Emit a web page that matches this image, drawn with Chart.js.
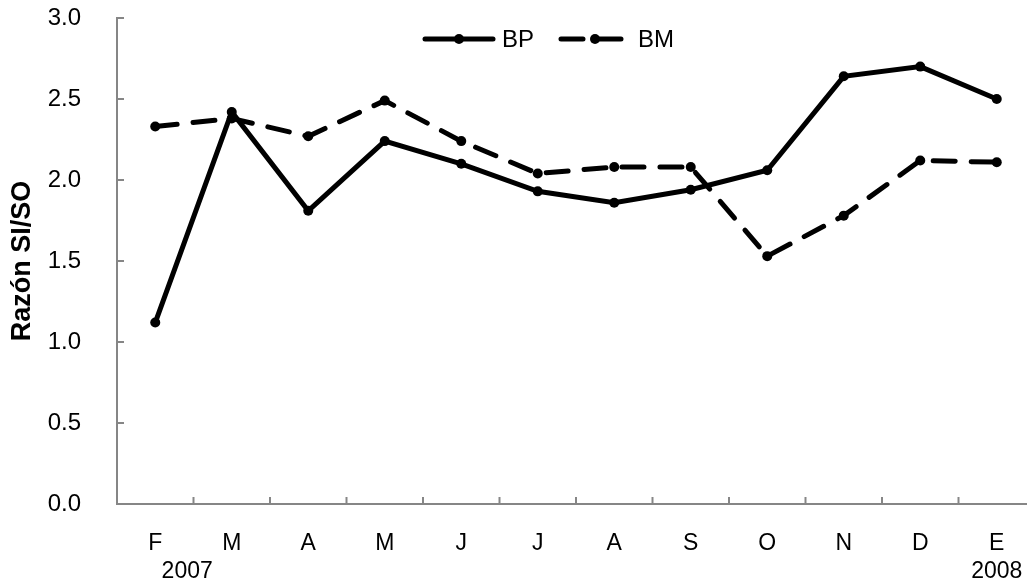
<!DOCTYPE html>
<html>
<head>
<meta charset="utf-8">
<script src="https://cdn.jsdelivr.net/npm/chart.js@4.4.0/dist/chart.umd.min.js"></script>
<style>
  html, body { margin: 0; padding: 0; background: #fff; overflow: hidden; }
  #wrap { width: 1050px; height: 583px; }
</style>
</head>
<body>
<div id="wrap"><canvas id="myChart"></canvas></div>
<script>
const meses = ["F", "M", "A", "M", "J", "J", "A", "S", "O", "N", "D", "E"];
const anios = ["          2007", "", "", "", "", "", "", "", "", "", "", "2008"];
const bp = [1.12, 2.42, 1.81, 2.24, 2.10, 1.93, 1.86, 1.94, 2.06, 2.64, 2.70, 2.50];
const bm = [2.33, 2.38, 2.27, 2.49, 2.24, 2.04, 2.08, 2.08, 1.53, 1.78, 2.12, 2.11];
const yTicks = [0, 0.5, 1.0, 1.5, 2.0, 2.5, 3.0];

const labels = meses.map((m, i) => anios[i] ? [m, anios[i]] : m);
const fuente = "'Liberation Sans', Arial, sans-serif";
const ejeColor = "#868686";

// marcas cortas hacia dentro del area, como en el original
const marcasInternas = {
    id: "marcasInternas",
    afterDraw(chart) {
        const ctx = chart.ctx;
        const x = chart.scales.x;
        const y = chart.scales.y;
        const area = chart.chartArea;
        ctx.save();
        ctx.strokeStyle = ejeColor;
        ctx.lineWidth = 2;
        yTicks.forEach(v => {
            const py = y.getPixelForValue(v);
            ctx.beginPath();
            ctx.moveTo(area.left, py);
            ctx.lineTo(area.left + 7, py);
            ctx.stroke();
        });
        const paso = x.getPixelForValue(1) - x.getPixelForValue(0);
        for (let i = 0; i <= meses.length; i++) {
            const px = x.getPixelForValue(i) - paso / 2;
            ctx.beginPath();
            ctx.moveTo(px, area.bottom);
            ctx.lineTo(px, area.bottom - 7);
            ctx.stroke();
        }
        ctx.restore();
    }
};

// leyenda dentro del area de trazado
const leyenda = {
    id: "leyenda",
    afterDraw(chart) {
        const ctx = chart.ctx;
        const cy = chart.chartArea.top + 21;
        let x0 = 425;
        ctx.save();
        ctx.font = "24px " + fuente;
        ctx.textBaseline = "middle";
        chart.data.datasets.forEach(ds => {
            ctx.strokeStyle = ds.borderColor;
            ctx.lineWidth = ds.borderWidth;
            ctx.lineCap = "round";
            ctx.setLineDash(ds.borderDash || []);
            ctx.beginPath();
            ctx.moveTo(x0, cy);
            ctx.lineTo(x0 + 68, cy);
            ctx.stroke();
            ctx.setLineDash([]);
            ctx.fillStyle = ds.pointBackgroundColor;
            ctx.beginPath();
            ctx.arc(x0 + 34, cy, ds.pointRadius, 0, Math.PI * 2);
            ctx.fill();
            ctx.fillStyle = "#000";
            ctx.fillText(ds.label, x0 + 77, cy + 1);
            x0 += 136;
        });
        ctx.restore();
    }
};

const config = {
    type: "line",
    data: {
        labels,
        datasets: [
            {
                label: "BP",
                data: bp,
                borderColor: "#000",
                borderWidth: 5,
                pointRadius: 5,
                pointBackgroundColor: "#000",
                pointBorderWidth: 0,
                tension: 0
            },
            {
                label: "BM",
                data: bm,
                borderColor: "#000",
                borderWidth: 5,
                borderDash: [22, 16],
                borderCapStyle: "round",
                pointRadius: 5,
                pointBackgroundColor: "#000",
                pointBorderWidth: 0,
                tension: 0
            }
        ]
    },
    options: {
        responsive: true,
        maintainAspectRatio: false,
        animation: false,
        layout: { padding: { top: 18, right: 15, left: 6, bottom: 0 } },
        plugins: {
            legend: { display: false },
            tooltip: { enabled: false }
        },
        scales: {
            x: {
                offset: true,
                grid: { display: false, offset: true },
                border: { color: ejeColor, width: 2 },
                ticks: {
                    color: "#000",
                    font: { family: fuente, size: 23, lineHeight: 1.2 },
                    padding: 18,
                    maxRotation: 0,
                    autoSkip: false
                },
                afterFit(scale) { scale.height = 79; }
            },
            y: {
                min: 0,
                max: 3,
                afterBuildTicks(scale) { scale.ticks = yTicks.map(v => ({ value: v })); },
                grid: { display: false },
                border: { color: ejeColor, width: 2 },
                ticks: {
                    color: "#000",
                    font: { family: fuente, size: 24 },
                    padding: 28,
                    callback: v => v.toFixed(1)
                },
                title: {
                    display: true,
                    text: "Razón SI/SO",
                    color: "#000",
                    font: { family: fuente, size: 27, weight: "bold" },
                    padding: { top: 0, bottom: 2 }
                },
                afterFit(scale) {
                    scale.width = 111;
                    scale.paddingTop = 0;
                    scale.paddingBottom = 0;
                }
            }
        }
    },
    plugins: [marcasInternas, leyenda]
};

const chart = new Chart(document.querySelector("#myChart"), config);
</script>
</body>
</html>
